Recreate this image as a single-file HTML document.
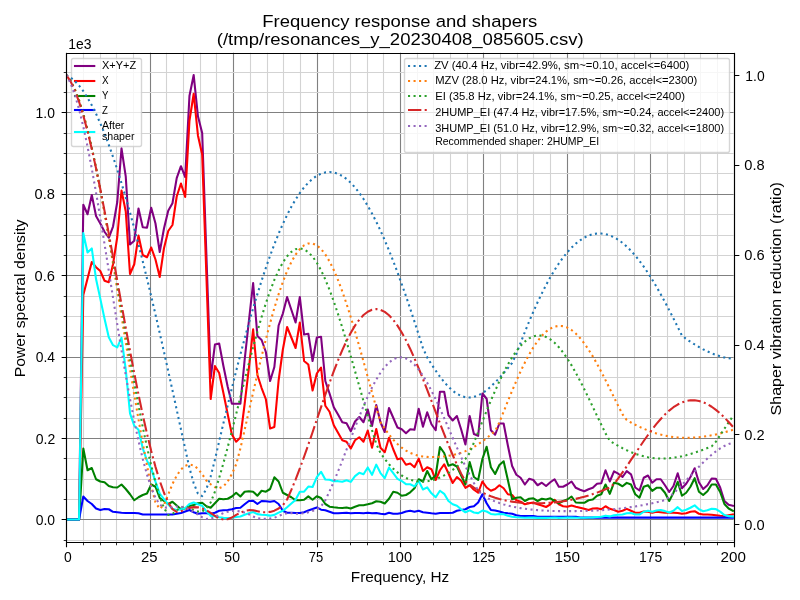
<!DOCTYPE html>
<html><head><meta charset="utf-8"><title>Frequency response and shapers</title><style>html,body{margin:0;padding:0;background:#fff;width:800px;height:600px;overflow:hidden}svg{display:block;will-change:transform}text{font-family:"Liberation Sans",sans-serif}</style></head><body>
<svg width="800" height="600" viewBox="0 0 800 600"><rect width="800" height="600" fill="#fff"/>
<defs><clipPath id="c"><rect x="66" y="53" width="668" height="489"/></clipPath></defs>
<g fill="none" stroke-width="1.11">
<path stroke="#808080" d="M66.5 52.8V541.72M150.5 52.8V541.72M233.5 52.8V541.72M317.5 52.8V541.72M400.5 52.8V541.72M483.5 52.8V541.72M567.5 52.8V541.72M650.5 52.8V541.72M734.5 52.8V541.72"/>
<path stroke="#d3d3d3" d="M83.5 52.8V541.72M100.5 52.8V541.72M116.5 52.8V541.72M133.5 52.8V541.72M166.5 52.8V541.72M183.5 52.8V541.72M200.5 52.8V541.72M216.5 52.8V541.72M250.5 52.8V541.72M267.5 52.8V541.72M283.5 52.8V541.72M300.5 52.8V541.72M333.5 52.8V541.72M350.5 52.8V541.72M367.5 52.8V541.72M383.5 52.8V541.72M417.5 52.8V541.72M433.5 52.8V541.72M450.5 52.8V541.72M467.5 52.8V541.72M500.5 52.8V541.72M517.5 52.8V541.72M533.5 52.8V541.72M550.5 52.8V541.72M583.5 52.8V541.72M600.5 52.8V541.72M617.5 52.8V541.72M634.5 52.8V541.72M667.5 52.8V541.72M684.5 52.8V541.72M700.5 52.8V541.72M717.5 52.8V541.72"/>
<path stroke="#808080" d="M66.32 519.5H733.62M66.32 438.5H733.62M66.32 357.5H733.62M66.32 275.5H733.62M66.32 194.5H733.62M66.32 112.5H733.62"/>
<path stroke="#d3d3d3" d="M66.32 540.5H733.62M66.32 499.5H733.62M66.32 479.5H733.62M66.32 458.5H733.62M66.32 418.5H733.62M66.32 397.5H733.62M66.32 377.5H733.62M66.32 336.5H733.62M66.32 316.5H733.62M66.32 296.5H733.62M66.32 255.5H733.62M66.32 235.5H733.62M66.32 214.5H733.62M66.32 173.5H733.62M66.32 153.5H733.62M66.32 133.5H733.62M66.32 92.5H733.62M66.32 72.5H733.62"/>
</g>
<g clip-path="url(#c)" fill="none" stroke-width="2.08" stroke-linejoin="round">
<path stroke="#800080" stroke-linecap="square" d="M66.32 519.5L70.57 519.5L74.81 519.5L79.06 519.5L83.3 204.76L87.55 214.21L91.79 195.02L96.04 216.02L100.29 223.51L104.53 231.76L108.78 237.76L113.02 226.51L117.27 202.02L121.51 148.32L125.76 176.72L130.01 244.51L134.25 240.76L138.5 208.51L142.74 227.26L146.99 227.71L151.23 207.76L155.48 223.51L159.73 252.01L163.97 228.51L168.22 210.76L172.46 203.27L176.71 178.11L180.95 166.22L185.2 177.02L189.45 96.02L193.69 75.02L197.94 116.27L202.18 133.12L206.43 256.01L210.67 378L214.92 344.51L219.17 343.51L223.41 366L227.66 386.5L231.9 403.75L236.15 403.75L240.39 403.75L244.64 360.01L248.88 321.01L253.13 283.01L257.38 336.01L261.62 340L265.87 352L270.11 381L274.36 367L278.6 325.51L282.85 313.51L287.1 297.01L291.34 309.76L295.59 322.51L299.83 297.01L304.08 334.51L308.32 333.76L312.57 361L316.82 337.51L321.06 336.76L325.31 381L329.55 393.5L333.8 407.25L338.04 414.5L342.29 422.25L346.54 423.3L350.78 431.25L355.03 421.5L359.27 417L363.52 422.25L367.76 409.5L372.01 426L376.26 405L380.5 422.25L384.75 432L388.99 408L393.24 417.75L397.48 427.5L401.73 429.3L405.98 433.2L410.22 429.3L414.47 429.75L418.71 408.75L422.96 426.75L427.2 412.25L431.45 424.25L435.7 430.25L439.94 391.71L444.19 391.71L448.43 415.25L452.68 420.5L456.92 416L461.17 429.5L465.42 444.5L469.66 416L473.91 434L478.15 435.8L482.4 393.5L486.64 398.76L490.89 430.25L495.14 434.75L499.38 423.5L503.63 423.5L507.87 445.5L512.12 466L516.36 474.75L520.61 477.75L524.86 484.5L529.1 478.8L533.35 480L537.59 485.25L541.84 482.7L546.08 486L550.33 482.25L554.58 479.25L558.82 486.75L563.07 486.75L567.31 484.5L571.56 481.5L575.8 487.8L580.05 489.75L584.29 491.25L588.54 489.3L592.79 487.8L597.03 483.75L601.28 483.3L605.52 470.25L609.77 481.5L614.01 471.3L618.26 473.7L622.51 477L626.75 471.2L631 474.3L635.24 487.5L639.49 490.5L643.73 477.75L647.98 475.5L652.23 482.7L656.47 479.25L660.72 479.25L664.96 485.25L669.21 492L673.45 486L677.7 473.25L681.95 488.25L686.19 483.75L690.44 477L694.68 468.3L698.93 482.25L703.17 489L707.42 485.25L711.67 478.5L715.91 478.8L720.16 487.5L724.4 501L728.65 504.75L732.89 505.8"/>
<path stroke="#ff0000" stroke-linecap="square" d="M66.32 519.5L70.57 519.5L74.81 519.5L79.06 519.5L83.3 295.01L87.55 278.51L91.79 262.01L96.04 267.26L100.29 271.01L104.53 280.76L108.78 282.26L113.02 264.26L117.27 237.01L121.51 190.52L125.76 211.51L130.01 274.01L134.25 264.26L138.5 235.51L142.74 255.01L146.99 257.26L151.23 247.51L155.48 259.51L159.73 277.01L163.97 248.26L168.22 231.01L172.46 225.01L176.71 196.51L180.95 183.52L185.2 197.01L189.45 120.77L193.69 93.77L197.94 135.42L202.18 154.52L206.43 277.01L210.67 399L214.92 366L219.17 373.01L223.41 393L227.66 414L231.9 434.5L236.15 441.7L240.39 437.5L244.64 404L248.88 368.01L253.13 329.26L257.38 375L261.62 388.01L265.87 399.25L270.11 428.5L274.36 427L278.6 380.5L282.85 349.51L287.1 327.01L291.34 337.51L295.59 348.01L299.83 322.51L304.08 361L308.32 364.51L312.57 390.5L316.82 373.51L321.06 367.51L325.31 405.75L329.55 411.75L333.8 425.25L338.04 432.75L342.29 440.25L346.54 441.75L350.78 448.5L355.03 440.25L359.27 437.25L363.52 441.75L367.76 430.5L372.01 447.75L376.26 429L380.5 447.75L384.75 452.25L388.99 437.7L393.24 449.25L397.48 459.3L401.73 458.25L405.98 464.7L410.22 463.5L414.47 467.25L418.71 458.7L422.96 471L427.2 467.25L431.45 469.2L435.7 480L439.94 470.25L444.19 464.25L448.43 473.25L452.68 483L456.92 477L461.17 480.75L465.42 487.8L469.66 485.25L473.91 489.75L478.15 492.75L482.4 481.5L486.64 487.5L490.89 490.8L495.14 489L499.38 485.25L503.63 488.25L507.87 494.25L512.12 495L516.36 500.25L520.61 501.75L524.86 504.3L529.1 503.25L533.35 502.5L537.59 504.3L541.84 505.5L546.08 507L550.33 504.3L554.58 499.8L558.82 504.3L563.07 506.25L567.31 506.7L571.56 505.5L575.8 506.7L580.05 507.75L584.29 508.8L588.54 510L592.79 508.5L597.03 508.2L601.28 509.25L605.52 506.25L609.77 508.8L614.01 510L618.26 511.79L622.51 510.75L626.75 508.9L631 510.75L635.24 512.7L639.49 512.7L643.73 511.5L647.98 511.79L652.23 512.7L656.47 511.79L660.72 512.25L664.96 512.7L669.21 512.7L673.45 512.7L677.7 513L681.95 513.75L686.19 513.3L690.44 511.79L694.68 511.2L698.93 513.75L703.17 514.5L707.42 514.5L711.67 514.79L715.91 515.25L720.16 515.7L724.4 516L728.65 515.25L732.89 514.5"/>
<path stroke="#008000" stroke-linecap="square" d="M66.32 519.5L70.57 519.5L74.81 519.5L79.06 519.5L83.3 448.5L87.55 470.25L91.79 468L96.04 479.25L100.29 481.5L104.53 482.25L108.78 486L113.02 487.2L117.27 487.5L121.51 484.5L125.76 489L130.01 494.25L134.25 500.25L138.5 497.25L142.74 495L146.99 493.5L151.23 484.5L155.48 486.75L159.73 498L163.97 501L168.22 504L172.46 501.75L176.71 505.5L180.95 509.25L185.2 508.5L189.45 506L193.69 505L197.94 503.25L202.18 502.8L206.43 506.25L210.67 507.75L214.92 503.25L219.17 498.75L223.41 499.2L227.66 498.75L231.9 496.5L236.15 492.75L240.39 496.5L244.64 491.7L248.88 491.25L253.13 491.7L257.38 495.75L261.62 490.8L265.87 491.7L270.11 489L274.36 477.3L278.6 481.5L282.85 492.75L287.1 495L291.34 497.25L295.59 500.25L299.83 500.25L304.08 499.8L308.32 496.4L312.57 499.7L316.82 496.2L321.06 498L325.31 504L329.55 506.7L333.8 507.3L338.04 507.75L342.29 508L346.54 507.5L350.78 508.5L355.03 506.7L359.27 505.2L363.52 505.2L367.76 504.3L372.01 503.25L376.26 501.3L380.5 501.75L384.75 503.5L388.99 498.75L393.24 491.7L397.48 492.75L401.73 495.75L405.98 495L410.22 492.3L414.47 488.25L418.71 479.25L422.96 481.5L427.2 471L431.45 479.25L435.7 475.5L439.94 447L444.19 453L448.43 465.75L452.68 464.25L456.92 466.5L461.17 475.5L465.42 484.5L469.66 462L473.91 477L478.15 480L482.4 459L486.64 446.7L490.89 467.25L495.14 474L499.38 465L503.63 461.25L507.87 480L512.12 499.2L516.36 497.7L520.61 497.25L524.86 501L529.1 498.75L533.35 498.3L537.59 501L541.84 498.75L546.08 499.5L550.33 498.3L554.58 501L558.82 503.25L563.07 501L567.31 499.5L571.56 496.5L575.8 502.5L580.05 502.8L584.29 502.8L588.54 500.25L592.79 499.5L597.03 495.75L601.28 494.25L605.52 484.5L609.77 493.8L614.01 482.7L618.26 483.75L622.51 486.3L626.75 482.85L631 484.5L635.24 494.25L639.49 497.7L643.73 486.75L647.98 485.25L652.23 490.8L656.47 487.8L660.72 487.8L664.96 492.75L669.21 501L673.45 492.75L677.7 481.8L681.95 495.75L686.19 492.75L690.44 486.75L694.68 478.2L698.93 491.7L703.17 495L707.42 491.25L711.67 484.5L715.91 484.5L720.16 492L724.4 504L728.65 508.5L732.89 510.75"/>
<path stroke="#0000ff" stroke-linecap="square" d="M66.32 519.5L70.57 519.5L74.81 519.5L79.06 519.5L83.3 496.5L87.55 501L91.79 504L96.04 508.5L100.29 510L104.53 509L108.78 509.25L113.02 511.79L117.27 512.25L121.51 512.7L125.76 513L130.01 513L134.25 513L138.5 513.3L142.74 514.5L146.99 514.5L151.23 514.5L155.48 514.5L159.73 514.5L163.97 514.5L168.22 514.5L172.46 514.5L176.71 513.75L180.95 513L185.2 511.5L189.45 510L193.69 512.25L197.94 513.75L202.18 513.3L206.43 513.3L210.67 513.75L214.92 512.7L219.17 510.75L223.41 510.3L227.66 510L231.9 509.25L236.15 508L240.39 507.75L244.64 504.3L248.88 501L253.13 500.7L257.38 504L261.62 501L265.87 501.3L270.11 501.75L274.36 501L278.6 504L282.85 510.75L287.1 512.7L291.34 512.7L295.59 513L299.83 513L304.08 512.25L308.32 510.4L312.57 509L316.82 507.45L321.06 509.7L325.31 510.3L329.55 511.79L333.8 513.3L338.04 513.3L342.29 513L346.54 512.7L350.78 513.3L355.03 513L359.27 513L363.52 513.3L367.76 512.7L372.01 513.3L376.26 513L380.5 513.75L384.75 514.2L388.99 512.7L393.24 513.75L397.48 513.75L401.73 513L405.98 511.5L410.22 510.75L414.47 511.79L418.71 510.75L422.96 512.25L427.2 512.7L431.45 513.3L435.7 513.75L439.94 513L444.19 513L448.43 513L452.68 512.7L456.92 510.75L461.17 510L465.42 509.25L469.66 507L473.91 506.25L478.15 502.5L482.4 494.25L486.64 503.25L490.89 510L495.14 510.45L499.38 511.5L503.63 512.7L507.87 513.3L512.12 513.75L516.36 515.25L520.61 516L524.86 516L529.1 516L533.35 516L537.59 516.74L541.84 516.74L546.08 516.74L550.33 516.74L554.58 516.74L558.82 516.74L563.07 516.74L567.31 516.74L571.56 516.74L575.8 516.74L580.05 517.6L584.29 517.6L588.54 517.6L592.79 517.6L597.03 517.6L601.28 517.6L605.52 517.6L609.77 517.6L614.01 517.6L618.26 517.6L622.51 517.6L626.75 517.6L631 517.6L635.24 517.6L639.49 517.6L643.73 517.6L647.98 517.6L652.23 517.6L656.47 517.6L660.72 517.6L664.96 517.6L669.21 517.6L673.45 517.6L677.7 517.6L681.95 517.6L686.19 517.6L690.44 517.6L694.68 517.6L698.93 517.6L703.17 517.6L707.42 517.6L711.67 517.6L715.91 517.6L720.16 517.6L724.4 517.6L728.65 517.6L732.89 517.6"/>
<path stroke="#00ffff" stroke-linecap="square" d="M66.32 519.5L70.57 519.5L74.81 519.5L79.06 519.5L83.3 233.12L87.55 252.44L91.79 248.42L96.04 279.02L100.29 298.62L104.53 318.78L108.78 337.23L113.02 345.17L117.27 347.31L121.51 337.77L125.76 369.6L130.01 413.33L134.25 425.72L138.5 429.66L142.74 448.23L146.99 460.61L151.23 468.67L155.48 481.62L159.73 493.58L163.97 499.05L168.22 504.43L172.46 508.78L176.71 510.06L180.95 509.25L185.2 508.15L189.45 503.98L193.69 502.47L197.94 504.24L202.18 505.83L206.43 511.29L210.67 515.88L214.92 516.16L219.17 517.25L223.41 517.84L227.66 517.97L231.9 517.74L236.15 517.06L240.39 516.48L244.64 514.76L248.88 513.22L253.13 512.05L257.38 514.14L261.62 514.67L265.87 514.99L270.11 515.65L274.36 514.87L278.6 512.65L282.85 510.71L287.1 507.19L291.34 503.43L295.59 499.85L299.83 491.81L304.08 491.67L308.32 486.54L312.57 487L316.82 477.09L321.06 471.82L325.31 479.56L329.55 479.79L333.8 481.24L338.04 481.16L342.29 481.8L346.54 480.23L350.78 481.86L355.03 476.15L359.27 472.81L363.52 474.2L367.76 467.44L372.01 474.84L376.26 464.65L380.5 473.07L384.75 478.13L388.99 467.62L393.24 473.19L397.48 478.81L401.73 480.98L405.98 484.14L410.22 484.29L414.47 486.34L418.71 481.06L422.96 489.48L427.2 487.39L431.45 493.33L435.7 497.2L439.94 490.73L444.19 493.84L448.43 501.04L452.68 504.22L456.92 505.75L461.17 509.35L465.42 512.31L469.66 510.35L473.91 512.51L478.15 513.15L482.4 510.59L486.64 511.51L490.89 513.93L495.14 514.49L499.38 514.08L503.63 514.3L507.87 515.64L512.12 516.79L516.36 517.29L520.61 517.48L524.86 517.83L529.1 517.58L533.35 517.65L537.59 517.89L541.84 517.77L546.08 517.91L550.33 517.71L554.58 517.53L558.82 517.86L563.07 517.81L567.31 517.64L571.56 517.42L575.8 517.7L580.05 517.74L584.29 517.76L588.54 517.56L592.79 517.36L597.03 516.97L601.28 516.81L605.52 515.65L609.77 516.38L614.01 515.17L618.26 514.81L622.51 514.58L626.75 513.25L631 513.02L635.24 514.46L639.49 514.52L643.73 511.75L647.98 510.75L652.23 511.71L656.47 510.5L660.72 510.06L664.96 511.12L669.21 512.53L673.45 510.77L677.7 507.16L681.95 511.02L686.19 509.69L690.44 507.77L694.68 505.36L698.93 509.27L703.17 511.21L707.42 510.34L711.67 508.77L715.91 509.12L720.16 511.6L724.4 515.1L728.65 516.14L732.89 516.52"/>
</g>
<rect x="71.5" y="58.5" width="70" height="88" rx="1.93" fill="#fff" fill-opacity="0.8" stroke="#ccc" stroke-opacity="0.8" stroke-width="1.39"/>
<path stroke="#800080" stroke-width="2.08" stroke-linecap="square" d="M74.99 66H94.27"/>
<path stroke="#ff0000" stroke-width="2.08" stroke-linecap="square" d="M74.99 81H94.27"/>
<path stroke="#008000" stroke-width="2.08" stroke-linecap="square" d="M74.99 96H94.27"/>
<path stroke="#0000ff" stroke-width="2.08" stroke-linecap="square" d="M74.99 110H94.27"/>
<path stroke="#00ffff" stroke-width="2.08" stroke-linecap="square" d="M74.99 132H94.27"/>
<g fill="none" stroke="#000">
<path stroke-width="1.11" d="M66.5 542.5v4.86M150.5 542.5v4.86M233.5 542.5v4.86M317.5 542.5v4.86M400.5 542.5v4.86M483.5 542.5v4.86M567.5 542.5v4.86M650.5 542.5v4.86M734.5 542.5v4.86M66.5 519.5h-4.86M66.5 438.5h-4.86M66.5 357.5h-4.86M66.5 275.5h-4.86M66.5 194.5h-4.86M66.5 112.5h-4.86M734.5 524.5h4.86M734.5 434.5h4.86M734.5 345.5h4.86M734.5 255.5h4.86M734.5 165.5h4.86M734.5 75.5h4.86"/>
<path stroke-width="0.83" d="M83.5 542.5v2.78M100.5 542.5v2.78M116.5 542.5v2.78M133.5 542.5v2.78M166.5 542.5v2.78M183.5 542.5v2.78M200.5 542.5v2.78M216.5 542.5v2.78M250.5 542.5v2.78M267.5 542.5v2.78M283.5 542.5v2.78M300.5 542.5v2.78M333.5 542.5v2.78M350.5 542.5v2.78M367.5 542.5v2.78M383.5 542.5v2.78M417.5 542.5v2.78M433.5 542.5v2.78M450.5 542.5v2.78M467.5 542.5v2.78M500.5 542.5v2.78M517.5 542.5v2.78M533.5 542.5v2.78M550.5 542.5v2.78M583.5 542.5v2.78M600.5 542.5v2.78M617.5 542.5v2.78M634.5 542.5v2.78M667.5 542.5v2.78M684.5 542.5v2.78M700.5 542.5v2.78M717.5 542.5v2.78M66.5 540.5h-2.78M66.5 499.5h-2.78M66.5 479.5h-2.78M66.5 458.5h-2.78M66.5 418.5h-2.78M66.5 397.5h-2.78M66.5 377.5h-2.78M66.5 336.5h-2.78M66.5 316.5h-2.78M66.5 296.5h-2.78M66.5 255.5h-2.78M66.5 235.5h-2.78M66.5 214.5h-2.78M66.5 173.5h-2.78M66.5 153.5h-2.78M66.5 133.5h-2.78M66.5 92.5h-2.78M66.5 72.5h-2.78"/>
</g>
<g clip-path="url(#c)" fill="none" stroke-width="2.08" stroke-linejoin="round" stroke-linecap="butt">
<path stroke="#1f77b4" stroke-dasharray="2.08 3.44" d="M66.32 75.02L70.57 77.49L74.81 81.01L79.06 85.57L83.3 91.14L87.55 97.72L91.79 105.28L96.04 113.79L100.29 123.23L104.53 133.56L108.78 144.77L113.02 156.81L117.27 169.64L121.51 183.24L125.76 197.57L130.01 212.57L134.25 228.22L138.5 244.47L142.74 261.26L146.99 278.57L151.23 296.34L155.48 314.52L159.73 333.06L163.97 351.91L168.22 371.02L172.46 390.33L176.71 409.77L180.95 429.28L185.2 448.75L189.45 468.01L193.69 483.1L197.94 493.7L202.18 496.06L206.43 488.85L210.67 476.5L214.92 459.61L219.17 441.33L223.41 423.23L227.66 405.43L231.9 388.01L236.15 371.01L240.39 354.51L244.64 338.52L248.88 323.1L253.13 308.29L257.38 294.1L261.62 280.59L265.87 267.77L270.11 255.67L274.36 244.32L278.6 233.74L282.85 223.95L287.1 214.97L291.34 206.81L295.59 199.49L299.83 193.02L304.08 187.41L308.32 182.67L312.57 178.79L316.82 175.79L321.06 173.67L325.31 172.41L329.55 172.03L333.8 172.5L338.04 173.83L342.29 176L346.54 179L350.78 182.82L355.03 187.44L359.27 192.83L363.52 198.98L367.76 205.87L372.01 213.47L376.26 221.75L380.5 230.69L384.75 240.25L388.99 250.4L393.24 261.11L397.48 272.34L401.73 284.04L405.98 296.18L410.22 308.72L414.47 321.59L418.71 334.74L422.96 348.12L427.2 357.39L431.45 364.24L435.7 370.7L439.94 376.67L444.19 382.05L448.43 386.75L452.68 390.68L456.92 393.77L461.17 395.96L465.42 397.21L469.66 397.52L473.91 396.91L478.15 395.42L482.4 393.14L486.64 390.16L490.89 386.56L495.14 382.46L499.38 377.95L503.63 373.14L507.87 368.1L512.12 362.92L516.36 353.96L520.61 342.78L524.86 331.97L529.1 321.59L533.35 311.67L537.59 302.25L541.84 293.35L546.08 285.01L550.33 277.24L554.58 270.07L558.82 263.5L563.07 257.56L567.31 252.26L571.56 247.61L575.8 243.61L580.05 240.27L584.29 237.59L588.54 235.58L592.79 234.23L597.03 233.54L601.28 233.51L605.52 234.12L609.77 235.38L614.01 237.26L618.26 239.76L622.51 242.86L626.75 246.54L631 250.78L635.24 255.57L639.49 260.88L643.73 266.68L647.98 272.95L652.23 279.66L656.47 286.76L660.72 294.23L664.96 302.03L669.21 310.11L673.45 318.43L677.7 326.93L681.95 335.55L686.19 339L690.44 341.8L694.68 344.47L698.93 346.98L703.17 349.31L707.42 351.42L711.67 353.31L715.91 354.95L720.16 356.33L724.4 357.43L728.65 358.26L732.89 358.8"/>
<path stroke="#ff7f0e" stroke-dasharray="2.08 3.44" d="M66.32 75.02L70.57 80.59L74.81 88.99L79.06 100.09L83.3 113.76L87.55 129.81L91.79 148.05L96.04 168.26L100.29 190.18L104.53 213.57L108.78 238.15L113.02 263.63L117.27 289.74L121.51 316.17L125.76 342.63L130.01 368.84L134.25 394.51L138.5 419.36L142.74 443.12L146.99 465.5L151.23 486.18L155.48 502.34L159.73 508.85L163.97 504.69L168.22 494.56L172.46 483.99L176.71 475.58L180.95 469.49L185.2 465.77L189.45 464.43L193.69 465.43L197.94 468.73L202.18 474.21L206.43 480.62L210.67 484.25L214.92 487.17L219.17 488.24L223.41 486.46L227.66 481.53L231.9 473.93L236.15 464.41L240.39 448.4L244.64 429.84L248.88 411.11L253.13 392.47L257.38 374.13L261.62 356.32L265.87 339.24L270.11 323.09L274.36 308.06L278.6 294.29L282.85 281.95L287.1 271.16L291.34 262.03L295.59 254.64L299.83 249.06L304.08 245.33L308.32 243.47L312.57 243.49L316.82 245.35L321.06 249.01L325.31 254.41L329.55 261.46L333.8 270.05L338.04 280.07L342.29 291.38L346.54 303.83L350.78 317.25L355.03 331.47L359.27 346.3L363.52 361.55L367.76 377.01L372.01 392.46L376.26 407.68L380.5 422.32L384.75 428.74L388.99 434.54L393.24 439.66L397.48 444.05L401.73 447.7L405.98 450.64L410.22 452.9L414.47 454.57L418.71 455.73L422.96 456.48L427.2 456.91L431.45 457.07L435.7 457.03L439.94 456.81L444.19 456.42L448.43 455.85L452.68 455.07L456.92 454.05L461.17 452.75L465.42 451.15L469.66 449.21L473.91 446.93L478.15 444.3L482.4 441.36L486.64 438.12L490.89 434.65L495.14 430.98L499.38 422.32L503.63 411.73L507.87 401.17L512.12 390.82L516.36 380.85L520.61 371.39L524.86 362.58L529.1 354.53L533.35 347.34L537.59 341.09L541.84 335.85L546.08 331.68L550.33 328.61L554.58 326.66L558.82 325.85L563.07 326.16L567.31 327.58L571.56 330.06L575.8 333.57L580.05 338.03L584.29 343.38L588.54 349.54L592.79 356.4L597.03 363.86L601.28 371.8L605.52 380.12L609.77 388.67L614.01 397.32L618.26 405.93L622.51 414.35L626.75 420.09L631 422.47L635.24 424.72L639.49 426.81L643.73 428.74L647.98 430.49L652.23 432.06L656.47 433.43L660.72 434.61L664.96 435.6L669.21 436.4L673.45 437.02L677.7 437.47L681.95 437.74L686.19 437.84L690.44 437.79L694.68 437.58L698.93 437.22L703.17 436.72L707.42 436.09L711.67 435.32L715.91 434.42L720.16 433.42L724.4 432.3L728.65 431.1L732.89 429.81"/>
<path stroke="#2ca02c" stroke-dasharray="2.08 3.44" d="M66.32 75.02L70.57 80.82L74.81 89.34L79.06 100.46L83.3 114.02L87.55 129.86L91.79 147.75L96.04 167.48L100.29 188.78L104.53 211.41L108.78 235.07L113.02 259.48L117.27 284.34L121.51 309.38L125.76 334.28L130.01 358.77L134.25 382.56L138.5 405.4L142.74 427.01L146.99 447.18L151.23 465.65L155.48 482.19L159.73 496.53L163.97 508.07L168.22 514.93L172.46 514.11L176.71 510.25L180.95 507.4L185.2 506.48L189.45 507.66L193.69 510.23L197.94 511.53L202.18 511.44L206.43 508.41L210.67 502.49L214.92 491.65L219.17 477.95L223.41 463.11L227.66 447.38L231.9 430.99L236.15 414.16L240.39 397.14L244.64 380.14L248.88 363.41L253.13 347.15L257.38 331.59L261.62 316.9L265.87 303.28L270.11 290.9L274.36 279.89L278.6 270.39L282.85 262.5L287.1 256.31L291.34 251.88L295.59 249.24L299.83 248.41L304.08 249.39L308.32 252.14L312.57 256.6L316.82 262.71L321.06 270.38L325.31 279.48L329.55 289.89L333.8 301.47L338.04 314.07L342.29 327.52L346.54 341.64L350.78 356.25L355.03 371.17L359.27 386.2L363.52 401.17L367.76 415.89L372.01 430.15L376.26 443.79L380.5 453.15L384.75 458.99L388.99 464.18L393.24 468.67L397.48 472.45L401.73 475.52L405.98 477.91L410.22 479.66L414.47 480.83L418.71 481.46L422.96 481.59L427.2 481.26L431.45 480.47L435.7 479.24L439.94 477.56L444.19 475.43L448.43 472.88L452.68 469.91L456.92 466.57L461.17 462.9L465.42 458.95L469.66 452.97L473.91 442.62L478.15 432.04L482.4 421.41L486.64 410.87L490.89 400.58L495.14 390.67L499.38 381.28L503.63 372.52L507.87 364.5L512.12 357.32L516.36 351.05L520.61 345.78L524.86 341.55L529.1 338.4L533.35 336.37L537.59 335.46L541.84 335.67L546.08 336.98L550.33 339.37L554.58 342.78L558.82 347.16L563.07 352.44L567.31 358.53L571.56 365.36L575.8 372.83L580.05 380.82L584.29 389.22L588.54 397.93L592.79 406.82L597.03 415.77L601.28 424.66L605.52 433.36L609.77 440.78L614.01 443.41L618.26 445.88L622.51 448.17L626.75 450.27L631 452.14L635.24 453.78L639.49 455.19L643.73 456.35L647.98 457.27L652.23 457.94L656.47 458.36L660.72 458.55L664.96 458.51L669.21 458.25L673.45 457.77L677.7 457.1L681.95 456.23L686.19 455.2L690.44 454L694.68 452.67L698.93 451.22L703.17 449.68L707.42 448.05L711.67 446.37L715.91 441.67L720.16 435.19L724.4 428.73L728.65 422.39L732.89 416.24"/>
<path stroke="#d62728" stroke-dasharray="13.33 3.33 2.08 3.33" d="M66.32 75.02L70.57 81.42L74.81 90.39L79.06 101.8L83.3 115.5L87.55 131.29L91.79 148.97L96.04 168.3L100.29 189.04L104.53 210.91L108.78 233.66L113.02 257L117.27 280.66L121.51 304.37L125.76 327.86L130.01 350.87L134.25 373.18L138.5 394.55L142.74 414.77L146.99 433.68L151.23 451.09L155.48 466.85L159.73 480.81L163.97 492.77L168.22 502.43L172.46 509.12L176.71 511.93L180.95 511.32L185.2 509.46L189.45 507.89L193.69 507.14L197.94 507.35L202.18 508.46L206.43 510.35L210.67 512.87L214.92 515.79L219.17 518.62L223.41 519.5L227.66 519.18L231.9 517.53L236.15 514.88L240.39 512.63L244.64 511L248.88 510.15L253.13 510.2L257.38 511.23L261.62 512.26L265.87 512.27L270.11 511.88L274.36 510.7L278.6 508.48L282.85 505.19L287.1 499.5L291.34 489.93L295.59 479.54L299.83 468.44L304.08 456.76L308.32 444.63L312.57 432.22L316.82 419.66L321.06 407.12L325.31 394.76L329.55 382.74L333.8 371.2L338.04 360.29L342.29 350.16L346.54 340.93L350.78 332.71L355.03 325.6L359.27 319.69L363.52 315.04L367.76 311.71L372.01 309.73L376.26 309.11L380.5 309.85L384.75 311.91L388.99 315.27L393.24 319.87L397.48 325.62L401.73 332.46L405.98 340.26L410.22 348.94L414.47 358.36L418.71 368.4L422.96 378.93L427.2 389.81L431.45 400.91L435.7 412.09L439.94 423.21L444.19 434.15L448.43 444.79L452.68 454.99L456.92 464.66L461.17 473.68L465.42 481.28L469.66 484.62L473.91 487.62L478.15 490.28L482.4 492.6L486.64 494.61L490.89 496.33L495.14 497.79L499.38 499.02L503.63 500.05L507.87 500.9L512.12 501.61L516.36 502.18L520.61 502.63L524.86 502.97L529.1 503.19L533.35 503.31L537.59 503.33L541.84 503.24L546.08 503.04L550.33 502.75L554.58 502.36L558.82 501.86L563.07 501.27L567.31 500.58L571.56 499.78L575.8 498.87L580.05 497.86L584.29 496.72L588.54 495.47L592.79 494.09L597.03 492.6L601.28 490.99L605.52 489.27L609.77 487.45L614.01 483.97L618.26 478.36L622.51 472.41L626.75 466.24L631 459.93L635.24 453.56L639.49 447.23L643.73 441.02L647.98 435.01L652.23 429.29L656.47 423.91L660.72 418.97L664.96 414.5L669.21 410.57L673.45 407.23L677.7 404.51L681.95 402.45L686.19 401.05L690.44 400.34L694.68 400.31L698.93 400.96L703.17 402.26L707.42 404.2L711.67 406.74L715.91 409.84L720.16 413.45L724.4 417.52L728.65 421.99L732.89 426.8"/>
<path stroke="#9467bd" stroke-dasharray="2.08 3.44" d="M66.32 75.02L70.57 83.18L74.81 94.66L79.06 109.25L83.3 126.67L87.55 146.6L91.79 168.7L96.04 192.58L100.29 217.84L104.53 244.06L108.78 270.82L113.02 297.71L117.27 324.33L121.51 350.29L125.76 375.24L130.01 398.86L134.25 420.86L138.5 440.97L142.74 458.97L146.99 474.64L151.23 487.71L155.48 497.83L159.73 504.5L163.97 507.48L168.22 507.7L172.46 506.94L176.71 506.42L180.95 506.64L185.2 507.71L189.45 509.54L193.69 511.95L197.94 514.66L202.18 517.26L206.43 518.96L210.67 518.74L214.92 517.04L219.17 514.98L223.41 513.14L227.66 511.79L231.9 511.03L236.15 510.91L240.39 511.46L244.64 512.62L248.88 514.34L253.13 516.52L257.38 518.25L261.62 518.79L265.87 518.88L270.11 518.5L274.36 517.76L278.6 516.01L282.85 514.34L287.1 513.34L291.34 513.13L295.59 513.82L299.83 513.72L304.08 513.17L308.32 512.31L312.57 510.96L316.82 508.99L321.06 506.35L325.31 500.29L329.55 491.37L333.8 481.69L338.04 471.4L342.29 460.64L346.54 449.6L350.78 438.45L355.03 427.38L359.27 416.58L363.52 406.22L367.76 396.49L372.01 387.55L376.26 379.56L380.5 372.64L384.75 366.91L388.99 362.47L393.24 359.37L397.48 357.66L401.73 357.35L405.98 358.44L410.22 360.89L414.47 364.64L418.71 369.6L422.96 375.67L427.2 382.74L431.45 390.66L435.7 399.3L439.94 408.49L444.19 418.07L448.43 427.88L452.68 437.77L456.92 447.56L461.17 457.12L465.42 466.3L469.66 474.96L473.91 483L478.15 490.28L482.4 495.39L486.64 497.68L490.89 499.71L495.14 501.49L499.38 503.04L503.63 504.38L507.87 505.54L512.12 506.53L516.36 507.39L520.61 508.12L524.86 508.74L529.1 509.28L533.35 509.73L537.59 510.11L541.84 510.42L546.08 510.66L550.33 510.85L554.58 510.99L558.82 511.09L563.07 511.14L567.31 511.16L571.56 511.14L575.8 511.1L580.05 511.02L584.29 510.92L588.54 510.79L592.79 510.62L597.03 510.42L601.28 510.17L605.52 509.89L609.77 509.56L614.01 509.17L618.26 508.74L622.51 508.26L626.75 507.72L631 507.12L635.24 506.46L639.49 505.74L643.73 504.96L647.98 504.12L652.23 503.22L656.47 502.26L660.72 501.24L664.96 500.12L669.21 497.08L673.45 493.3L677.7 489.2L681.95 484.87L686.19 480.38L690.44 475.82L694.68 471.27L698.93 466.8L703.17 462.51L707.42 458.46L711.67 454.72L715.91 451.36L720.16 448.43L724.4 445.98L728.65 444.05L732.89 442.67"/>
</g>
<rect x="404.5" y="58.5" width="325" height="94" rx="1.93" fill="#fff" fill-opacity="0.8" stroke="#ccc" stroke-opacity="0.8" stroke-width="1.39"/>
<path stroke="#1f77b4" stroke-width="2.08" stroke-linecap="butt" stroke-dasharray="2.08 3.44" d="M408.01 66H427.28"/>
<path stroke="#ff7f0e" stroke-width="2.08" stroke-linecap="butt" stroke-dasharray="2.08 3.44" d="M408.01 81H427.28"/>
<path stroke="#2ca02c" stroke-width="2.08" stroke-linecap="butt" stroke-dasharray="2.08 3.44" d="M408.01 96H427.28"/>
<path stroke="#d62728" stroke-width="2.08" stroke-linecap="butt" stroke-dasharray="13.33 3.33 2.08 3.33" d="M408.01 110H427.28"/>
<path stroke="#9467bd" stroke-width="2.08" stroke-linecap="butt" stroke-dasharray="2.08 3.44" d="M408.01 126H427.28"/>
<path fill="none" stroke="#000" stroke-width="1.11" stroke-linecap="square" d="M66.5 53.5V542.5H734.5V53.5Z"/>
<g font-family="Liberation Sans, sans-serif" fill="#000">
<text x="63.94" y="562.44" font-size="13.89" textLength="7.72" lengthAdjust="spacingAndGlyphs">0</text>
<text x="140.98" y="562.44" font-size="13.89" textLength="16.54" lengthAdjust="spacingAndGlyphs">25</text>
<text x="224.39" y="562.44" font-size="13.89" textLength="15.51" lengthAdjust="spacingAndGlyphs">50</text>
<text x="308.81" y="562.44" font-size="13.89" textLength="14.41" lengthAdjust="spacingAndGlyphs">75</text>
<text x="387.78" y="562.44" font-size="13.89" textLength="24.21" lengthAdjust="spacingAndGlyphs">100</text>
<text x="472.19" y="562.44" font-size="13.89" textLength="23.16" lengthAdjust="spacingAndGlyphs">125</text>
<text x="554.61" y="562.44" font-size="13.89" textLength="25.45" lengthAdjust="spacingAndGlyphs">150</text>
<text x="639.02" y="562.44" font-size="13.89" textLength="23.16" lengthAdjust="spacingAndGlyphs">175</text>
<text x="720.49" y="562.44" font-size="13.89" textLength="25.35" lengthAdjust="spacingAndGlyphs">200</text>
<text x="35.72" y="525" font-size="13.89" textLength="19.35" lengthAdjust="spacingAndGlyphs">0.0</text>
<text x="35.72" y="443.59" font-size="13.89" textLength="19.47" lengthAdjust="spacingAndGlyphs">0.2</text>
<text x="35.72" y="362.17" font-size="13.89" textLength="19.3" lengthAdjust="spacingAndGlyphs">0.4</text>
<text x="34.6" y="280.76" font-size="13.89" textLength="20.37" lengthAdjust="spacingAndGlyphs">0.6</text>
<text x="34.6" y="199.35" font-size="13.89" textLength="20.37" lengthAdjust="spacingAndGlyphs">0.8</text>
<text x="35.6" y="117.94" font-size="13.89" textLength="19.3" lengthAdjust="spacingAndGlyphs">1.0</text>
<text x="744.34" y="529.85" font-size="13.89" textLength="20.37" lengthAdjust="spacingAndGlyphs">0.0</text>
<text x="744.34" y="439.98" font-size="13.89" textLength="20.37" lengthAdjust="spacingAndGlyphs">0.2</text>
<text x="744.34" y="350.12" font-size="13.89" textLength="20.37" lengthAdjust="spacingAndGlyphs">0.4</text>
<text x="744.34" y="260.25" font-size="13.89" textLength="20.37" lengthAdjust="spacingAndGlyphs">0.6</text>
<text x="744.34" y="170.39" font-size="13.89" textLength="20.37" lengthAdjust="spacingAndGlyphs">0.8</text>
<text x="745.34" y="80.52" font-size="13.89" textLength="19.3" lengthAdjust="spacingAndGlyphs">1.0</text>
<text x="68.32" y="48.63" font-size="13.89" textLength="23.16" lengthAdjust="spacingAndGlyphs">1e3</text>
<text x="350.84" y="582" font-size="13.89" textLength="98.45" lengthAdjust="spacingAndGlyphs">Frequency, Hz</text>
<text x="25.04" y="298.26" font-size="13.89" text-anchor="middle" textLength="157.8" lengthAdjust="spacingAndGlyphs" transform="rotate(-90 25.04 298.26)">Power spectral density</text>
<text x="780.9" y="298.76" font-size="13.89" text-anchor="middle" textLength="233.38" lengthAdjust="spacingAndGlyphs" transform="rotate(-90 780.9 298.76)">Shaper vibration reduction (ratio)</text>
<text x="101.98" y="69.48" font-size="10.8" textLength="34.14" lengthAdjust="spacingAndGlyphs">X+Y+Z</text>
<text x="101.98" y="84.29" font-size="10.8" textLength="6.61" lengthAdjust="spacingAndGlyphs">X</text>
<text x="101.98" y="99.11" font-size="10.8" textLength="6.42" lengthAdjust="spacingAndGlyphs">Y</text>
<text x="101.98" y="113.93" font-size="10.8" textLength="5.89" lengthAdjust="spacingAndGlyphs">Z</text>
<text x="101.98" y="129.05" font-size="10.8" textLength="22.36" lengthAdjust="spacingAndGlyphs">After</text>
<text x="101.98" y="139.85" font-size="10.8" textLength="32.48" lengthAdjust="spacingAndGlyphs">shaper</text>
<text x="434.19" y="69.48" font-size="10.8" textLength="255.12" lengthAdjust="spacingAndGlyphs">ZV (40.4 Hz, vibr=42.9%, sm~=0.10, accel&lt;=6400)</text>
<text x="435.19" y="84.29" font-size="10.8" textLength="262.12" lengthAdjust="spacingAndGlyphs">MZV (28.0 Hz, vibr=24.1%, sm~=0.26, accel&lt;=2300)</text>
<text x="435.19" y="99.61" font-size="10.8" textLength="249.88" lengthAdjust="spacingAndGlyphs">EI (35.8 Hz, vibr=24.1%, sm~=0.25, accel&lt;=2400)</text>
<text x="435.19" y="115.84" font-size="10.8" textLength="288.91" lengthAdjust="spacingAndGlyphs">2HUMP_EI (47.4 Hz, vibr=17.5%, sm~=0.24, accel&lt;=2400)</text>
<text x="435.19" y="131.57" font-size="10.8" textLength="288.91" lengthAdjust="spacingAndGlyphs">3HUMP_EI (51.0 Hz, vibr=12.9%, sm~=0.32, accel&lt;=1800)</text>
<text x="435.19" y="145.29" font-size="10.8" textLength="164.04" lengthAdjust="spacingAndGlyphs">Recommended shaper: 2HUMP_EI</text>
<text x="399.8" y="27.15" font-size="16.67" text-anchor="middle" textLength="275.09" lengthAdjust="spacingAndGlyphs">Frequency response and shapers</text>
<text x="400.2" y="44.5" font-size="16.67" text-anchor="middle" textLength="366.84" lengthAdjust="spacingAndGlyphs">(/tmp/resonances_y_20230408_085605.csv)</text>
</g></svg>
</body></html>
